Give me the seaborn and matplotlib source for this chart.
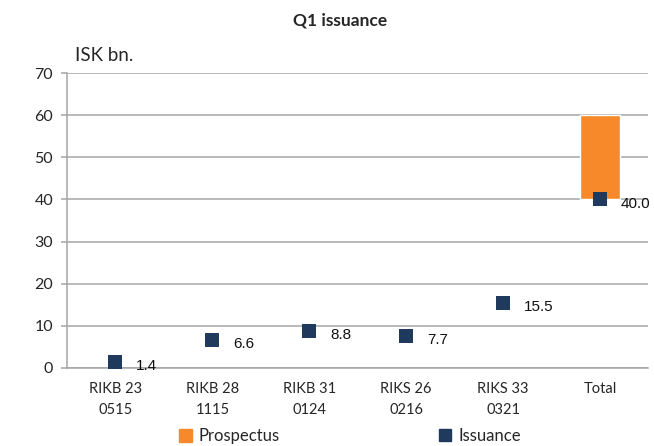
import matplotlib
matplotlib.use("Agg")
import matplotlib.pyplot as plt
from matplotlib.lines import Line2D
from matplotlib.patches import Patch
import seaborn as sns
import pandas as pd

categories = ["RIKB 23\n0515", "RIKB 28\n1115", "RIKB 31\n0124", "RIKS 26\n0216", "RIKS 33\n0321", "Total"]
issuance = [1.4, 6.6, 8.8, 7.7, 15.5, 40.0]
prospectus_low = 40.0
prospectus_high = 60.0

orange = "#F7892B"
navy = "#1F3A5C"
grey = "#A6A6A6"

sns.set_style("white")
plt.rcParams["font.family"] = ["Lato", "DejaVu Sans"]

fig = plt.figure(figsize=(6.54, 4.46), dpi=100)
ax = fig.add_axes([0.1024, 0.1749, 0.889, 0.6614])

bar_df = pd.DataFrame({"cat": ["Total"], "val": [prospectus_high - prospectus_low]})
sns.barplot(data=bar_df, x="cat", y="val", order=categories, color=orange,
            saturation=1, width=0.41, bottom=prospectus_low, ax=ax, zorder=2)

iss_df = pd.DataFrame({"cat": categories, "val": issuance})
sns.stripplot(data=iss_df, x="cat", y="val", order=categories, jitter=False,
              marker="s", size=10, color=navy, ax=ax, zorder=3)

for i, v in enumerate(issuance):
    ax.annotate(f"{v:.1f}", (i, v), xytext=(15, -3), textcoords="offset points",
                ha="left", va="center", fontsize=11, family="Liberation Sans", color="#111111")

ax.set_ylim(0, 70)
ax.set_yticks(range(0, 71, 10))
ax.set_xlim(-0.5, len(categories) - 0.5)
ax.set_xlabel("")
ax.set_ylabel("")
ax.yaxis.grid(True, color=grey, linewidth=1.1, zorder=0)
ax.set_axisbelow(True)
for s in ["top", "right"]:
    ax.spines[s].set_visible(False)
for s in ["left", "bottom"]:
    ax.spines[s].set_color(grey)
    ax.spines[s].set_linewidth(1.1)

ax.set_xticks(range(len(categories)))
ax.set_xticklabels(categories, fontsize=10.5, linespacing=1.65)
ax.set_xticks([i - 0.5 for i in range(len(categories) + 1)], minor=True)
ax.tick_params(axis="x", which="major", length=0, pad=10)
ax.tick_params(axis="x", which="minor", length=4, width=1.1, color=grey, direction="out")
ax.tick_params(axis="y", length=4, width=1.1, color=grey, left=True, labelsize=11.5, pad=6)

fig.text(0.52, 0.953, "Q1 issuance", ha="center", va="center", fontsize=12.5, fontweight="bold")
fig.text(0.114, 0.875, "ISK bn.", ha="left", va="center", fontsize=13.5)

handles = [Patch(color=orange, label="Prospectus"),
           Line2D([], [], marker="s", linestyle="", color=navy, markersize=8, label="Issuance")]
fig.legend(handles=handles, loc="lower center", bbox_to_anchor=(0.535, -0.03), ncol=2,
           frameon=False, fontsize=12, handlelength=0.8, handleheight=0.8,
           handletextpad=0.4, columnspacing=9.5)

fig.savefig("out.png", dpi=100)
